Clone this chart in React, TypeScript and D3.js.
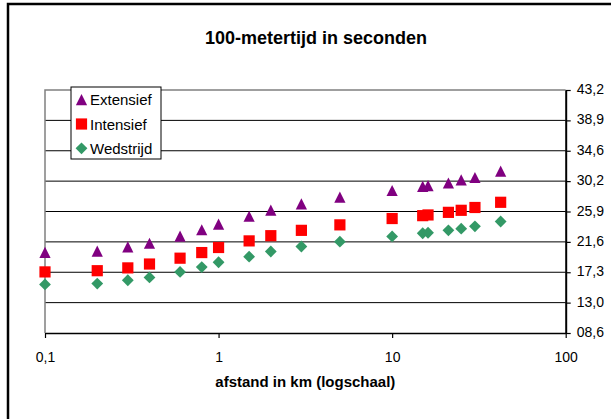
import React, { useRef, useEffect } from "react";
import * as d3 from "d3";

// afstand in km
const distances = [0.1, 0.2, 0.3, 0.4, 0.6, 0.8, 1, 1.5, 2, 3, 5, 10, 15, 16.1, 21.1, 25, 30, 42.195];
// 100-metertijd (s) per trainingsvorm
const extensief = [20.1, 20.27, 20.87, 21.39, 22.41, 23.31, 24.1, 25.23, 26.11, 27.0, 27.96, 28.89, 29.48, 29.6, 29.96, 30.4, 30.74, 31.66];
const intensief = [17.33, 17.5, 17.9, 18.45, 19.28, 20.08, 20.8, 21.74, 22.48, 23.24, 24.02, 24.92, 25.33, 25.43, 25.8, 26.09, 26.49, 27.23];
const wedstrijd = [15.55, 15.67, 16.14, 16.54, 17.33, 18.02, 18.7, 19.5, 20.23, 20.94, 21.63, 22.38, 22.83, 22.9, 23.24, 23.48, 23.81, 24.5];

const seriesNames = ["Extensief", "Intensief", "Wedstrijd"];
const xTickValues = [0.1, 1, 10, 100];
const xTickLabels = ["0,1", "1", "10", "100"];
const yTickValues = [8.64, 12.96, 17.28, 21.6, 25.92, 30.24, 34.56, 38.88, 43.2];
const yTickLabels = ["08,6", "13,0", "17,3", "21,6", "25,9", "30,2", "34,6", "38,9", "43,2"];

const W = 611;
const H = 419;
const plot = { left: 45, right: 565.7, top: 90, bottom: 333 };
const font = "'Liberation Sans', Arial, sans-serif";

const markers = [
  { shape: "triangle", color: "#800080" },
  { shape: "square", color: "#FF0000" },
  { shape: "diamond", color: "#339966" },
];

const markerPath = (shape: string) => {
  if (shape === "triangle") return "M0,-5.7L5.6,5.5L-5.6,5.5Z";
  if (shape === "square") return "M-5.6,-5.6H5.6V5.6H-5.6Z";
  return "M0,-5.9L5.9,0L0,5.9L-5.9,0Z";
};

const Chart = () => {
  const svgRef = useRef<SVGSVGElement>(null);

  useEffect(() => {
    const svg = d3.select(svgRef.current);

    const x = d3.scaleLog().domain([0.1, 100]).range([plot.left, plot.right]);
    const y = d3.scaleLinear().domain([8.64, 43.2]).range([plot.bottom, plot.top]);

    // outer frame
    svg
      .append("path")
      .attr("d", `M8,${H + 5}V4H${W + 5}`)
      .attr("fill", "none")
      .attr("stroke", "#000")
      .attr("stroke-width", 2.5);

    svg
      .append("text")
      .attr("x", 316)
      .attr("y", 43.5)
      .attr("text-anchor", "middle")
      .style("font-family", font)
      .style("font-weight", "bold")
      .style("font-size", "18px")
      .text("100-metertijd in seconden");

    // gridlines
    svg
      .append("g")
      .selectAll("line")
      .data(yTickValues.slice(1, -1))
      .enter()
      .append("line")
      .attr("x1", plot.left)
      .attr("x2", plot.right)
      .attr("y1", (d) => y(d))
      .attr("y2", (d) => y(d))
      .attr("stroke", "#000")
      .attr("stroke-width", 1);

    // plot border (grey top and left)
    svg
      .append("path")
      .attr("d", `M${plot.left},${plot.bottom}V${plot.top}H${plot.right}`)
      .attr("fill", "none")
      .attr("stroke", "#808080")
      .attr("stroke-width", 1.5);

    // bottom axis
    const xAxis = svg
      .append("g")
      .attr("transform", `translate(0, ${plot.bottom})`)
      .call(
        d3
          .axisBottom(x)
          .tickValues(xTickValues)
          .tickFormat((d, i) => xTickLabels[i])
          .tickSizeInner(5)
          .tickSizeOuter(0)
          .tickPadding(14)
      );
    xAxis.select(".domain").attr("stroke", "#000").attr("stroke-width", 1.5);
    xAxis.selectAll(".tick line").attr("stroke", "#000").attr("stroke-width", 1.2);
    xAxis
      .selectAll("text")
      .style("font-family", font)
      .style("font-size", "14px")
      .attr("fill", "#000");

    // right axis
    const yAxis = svg
      .append("g")
      .attr("transform", `translate(${plot.right}, 0)`)
      .call(
        d3
          .axisRight(y)
          .tickValues(yTickValues)
          .tickFormat((d, i) => yTickLabels[i])
          .tickSizeInner(5)
          .tickSizeOuter(0)
          .tickPadding(6)
      );
    yAxis.select(".domain").attr("stroke", "#000").attr("stroke-width", 2);
    yAxis.selectAll(".tick line").attr("stroke", "#000").attr("stroke-width", 1.2);
    yAxis
      .selectAll("text")
      .style("font-family", font)
      .style("font-size", "14px")
      .attr("fill", "#000")
      .attr("dy", "0.25em");

    svg
      .append("text")
      .attr("x", (plot.left + plot.right) / 2)
      .attr("y", 387)
      .attr("text-anchor", "middle")
      .style("font-family", font)
      .style("font-weight", "bold")
      .style("font-size", "15px")
      .text("afstand in km (logschaal)");

    // data points
    [extensief, intensief, wedstrijd].forEach((values, idx) => {
      svg
        .append("g")
        .selectAll("path")
        .data(values)
        .enter()
        .append("path")
        .attr("d", markerPath(markers[idx].shape))
        .attr("transform", (d, i) => `translate(${x(distances[i])}, ${y(d)})`)
        .attr("fill", markers[idx].color);
    });

    // legend
    const legend = svg.append("g").attr("transform", "translate(71, 87)");
    legend
      .append("rect")
      .attr("width", 90)
      .attr("height", 72)
      .attr("fill", "#fff")
      .attr("stroke", "#000")
      .attr("stroke-width", 1);

    seriesNames.forEach((name, idx) => {
      const row = legend.append("g").attr("transform", `translate(0, ${12.7 + idx * 24.3})`);
      row
        .append("path")
        .attr("d", markerPath(markers[idx].shape))
        .attr("transform", "translate(10.5, 0)")
        .attr("fill", markers[idx].color);
      row
        .append("text")
        .attr("x", 19)
        .attr("y", 5.5)
        .style("font-family", font)
        .style("font-size", "15px")
        .text(name);
    });

    return () => {
      svg.selectAll("*").remove();
    };
  }, []);

  return <svg ref={svgRef} width={W} height={H} style={{ display: "block" }}></svg>;
};

export default function App() {
  return (
    <div style={{ position: "absolute", left: 0, top: 0, width: W, height: H, overflow: "hidden", background: "#fff" }}>
      <Chart />
    </div>
  );
}
